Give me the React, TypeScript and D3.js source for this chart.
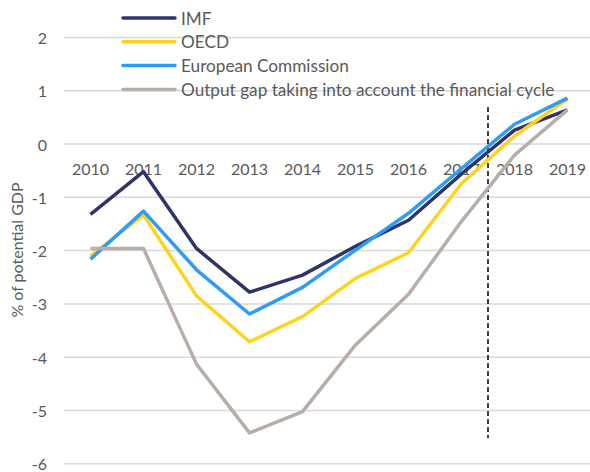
import React from "react";
import * as d3 from "d3";

const years = ["2010", "2011", "2012", "2013", "2014", "2015", "2016", "2017", "2018", "2019"];
const imf = [-1.32, -0.52, -1.96, -2.78, -2.46, -1.92, -1.43, -0.56, 0.26, 0.64];
const oecd = [-2.1, -1.33, -2.85, -3.71, -3.24, -2.52, -2.04, -0.74, 0.15, 0.85];
const ec = [-2.16, -1.26, -2.36, -3.19, -2.69, -1.99, -1.3, -0.46, 0.37, 0.86];
const fin = [-1.96, -1.96, -4.13, -5.42, -5.02, -3.77, -2.82, -1.45, -0.21, 0.64];
const yTicks = [2, 1, 0, -1, -2, -3, -4, -5, -6];
const seriesNames = ["IMF", "OECD", "European Commission", "Output gap taking into account the financial cycle"];
const seriesColors = ["#2E3468", "#FFD21F", "#2E9BF5", "#B8ADA7"];
const seriesData = [imf, oecd, ec, fin];

const FONT = "Lato, 'Open Sans', sans-serif";
const TXT = "#595959";

export default function App() {
  const W = 590, H = 472;
  const x = d3.scalePoint<string>().domain(years).range([64, 594]).padding(0.5);
  const y = d3.scaleLinear().domain([-6, 2]).range([463.8, 37.4]);
  const line = d3
    .line<number>()
    .x((_, i) => x(years[i]) as number)
    .y((d) => y(d));
  const dashX = ((x("2017") as number) + (x("2018") as number)) / 2;

  return (
    <svg width={W} height={H} style={{ position: "absolute", left: 0, top: 0, background: "#fff" }}>
      {yTicks.map((t) => (
        <g key={t}>
          <line x1={64} x2={594} y1={y(t)} y2={y(t)} stroke="#D9D9D9" strokeWidth={1.5} />
          <text x={47} y={y(t)} textAnchor="end" dominantBaseline="central" fontFamily={FONT} fontSize={16} fill={TXT}>
            {t}
          </text>
        </g>
      ))}
      {years.map((yr) => (
        <text key={yr} x={x(yr)} y={y(0) + 24} textAnchor="middle" dominantBaseline="central" fontFamily={FONT} fontSize={16} fill={TXT}>
          {yr}
        </text>
      ))}
      <text
        transform={`translate(16,250) rotate(-90)`}
        textAnchor="middle"
        dominantBaseline="central"
        fontFamily={FONT}
        fontSize={16}
        fill={TXT}
      >
        % of potential GDP
      </text>
      <line x1={dashX} x2={dashX} y1={107} y2={438} stroke="#000" strokeWidth={1.5} strokeDasharray="5,3" />
      {seriesData.map((d, i) => (
        <path key={i} d={line(d) || ""} fill="none" stroke={seriesColors[i]} strokeWidth={3.5} strokeLinejoin="round" />
      ))}
      {seriesNames.map((n, i) => {
        const ly = 18 + i * 23.8;
        return (
          <g key={n}>
            <line x1={123} x2={175} y1={ly} y2={ly} stroke={seriesColors[i]} strokeWidth={3.5} strokeLinecap="round" />
            <text x={181} y={ly} dominantBaseline="central" fontFamily={FONT} fontSize={17.2} fill={TXT}>
              {n}
            </text>
          </g>
        );
      })}
    </svg>
  );
}
